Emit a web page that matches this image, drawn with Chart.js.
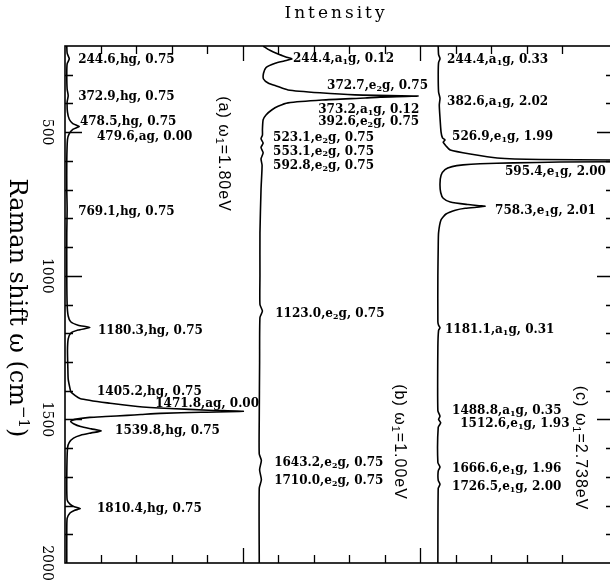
<!DOCTYPE html>
<html><head><meta charset="utf-8">
<script src="https://cdn.jsdelivr.net/npm/chart.js@4/dist/chart.umd.min.js"></script>
<style>
html,body{margin:0;padding:0;background:#fff;overflow:hidden;width:610px;height:581px}
#wrap{width:616px;height:581px;position:relative}
canvas{display:block}
</style>
</head><body><div id="wrap"><canvas id="c" width="616" height="581"></canvas></div>
<script>
// ---------------- DATA ----------------
const yTickLabels = [500, 1000, 1500, 2000];
const xAxisTitle = "Intensity";
const yAxisTitle = "Raman shift ω (cm⁻¹)";
const panelTitles = ["(a) ω₁=1.80eV", "(b) ω₁=1.00eV", "(c) ω₁=2.738eV"];

// panel (a) spectrum: Raman shift (cm^-1) and intensity (arb. units)
const shiftA = [200,225,244.6,262,300,350,372.9,395,430,455,470,480,490,505,525,600,700,769,850,1000,1100,1140,1160,1172,1180.3,1189,1200,1220,1260,1320,1360,1392,1405,1427,1444,1455,1462,1468,1472,1475,1479,1483,1486,1490,1493,1500,1507,1515,1525,1533,1540,1547,1555,1565,1580,1600,1700,1780,1795,1804,1810.4,1817,1826,1845,1900,2000];
const intensityA = [0.01,0.02,0.08,0.02,0.01,0.02,0.05,0.02,0.03,0.08,0.18,0.36,0.18,0.08,0.03,0.01,0.01,0.02,0.01,0.01,0.02,0.05,0.12,0.33,0.66,0.33,0.12,0.05,0.03,0.04,0.05,0.10,0.13,0.38,1.23,2.0,2.92,4.0,4.98,3.8,2.64,2.1,1.71,1.1,0.66,0.24,0.12,0.2,0.4,0.7,0.98,0.7,0.4,0.2,0.08,0.03,0.01,0.02,0.1,0.22,0.39,0.22,0.1,0.02,0.01,0.01];

// panel (b)
const shiftB = [200,215,228,238,245,252,260,275,295,315,329,340,353,363,370,374,378,381,388,398,410,422,440,457,490,510,523,538,553,572,593,615,700,850,1000,1100,1123,1145,1300,1500,1620,1643,1675,1710,1740,2000];
const intensityB = [0.11,0.30,0.53,0.75,0.92,0.70,0.45,0.19,0.12,0.12,0.25,0.5,0.81,1.71,2.70,4.47,3.4,2.98,1.77,0.81,0.53,0.36,0.19,0.11,0.09,0.09,0.05,0.11,0.05,0.11,0.05,0.08,0.05,0.02,0.02,0.02,0.09,0.02,0.01,0.0,0.0,0.06,0.01,0.06,0.0,0.0];

// panel (c)
const shiftC = [200,230,244,258,300,360,382,405,450,500,520,527,535,548,562,576,590,595,600,604,607,610,614,620,630,650,680,710,730,743,752,758.3,765,772,785,805,850,900,1000,1160,1172,1181,1190,1250,1470,1489,1500,1512,1528,1650,1666,1680,1712,1726,1740,2000];
const intensityC = [0.01,0.02,0.06,0.02,0.01,0.02,0.06,0.04,0.06,0.09,0.13,0.2,0.15,0.23,0.35,0.91,1.67,2.88,7.95,3.44,2.12,1.19,0.71,0.40,0.2,0.09,0.06,0.08,0.15,0.35,0.85,1.33,0.77,0.49,0.23,0.09,0.02,0.01,0.0,0.0,0.02,0.06,0.02,0.0,0.0,0.06,0.02,0.08,0.01,0.0,0.06,0.01,0.01,0.06,0.01,0.0];

// peak annotations (position, symmetry, value)
const labelsA = ["244.6,hg, 0.75","372.9,hg, 0.75","478.5,hg, 0.75","479.6,ag, 0.00","769.1,hg, 0.75","1180.3,hg, 0.75","1405.2,hg, 0.75","1471.8,ag, 0.00","1539.8,hg, 0.75","1810.4,hg, 0.75"];
const labelsB = ["244.4,a₁g, 0.12","372.7,e₂g, 0.75","373.2,a₁g, 0.12","392.6,e₂g, 0.75","523.1,e₂g, 0.75","553.1,e₂g, 0.75","592.8,e₂g, 0.75","1123.0,e₂g, 0.75","1643.2,e₂g, 0.75","1710.0,e₂g, 0.75"];
const labelsC = ["244.4,a₁g, 0.33","382.6,a₁g, 2.02","526.9,e₁g, 1.99","595.4,e₁g, 2.00","758.3,e₁g, 2.01","1181.1,a₁g, 0.31","1488.8,a₁g, 0.35","1512.6,e₁g, 1.93","1666.6,e₁g, 1.96","1726.5,e₁g, 2.00"];

// ---------------- LAYOUT (positions / styles) ----------------
const panelOffsets = [0.04, 5.47, 10.5];           // horizontal stacking of the three spectra
const labelLayout = [                               // [x in axis units, vertical nudge px]
  [[0.37,1],[0.37,1],[0.42,-4.5],[0.90,11],[0.37,2],[0.93,3],[0.90,0],[2.54,-7],[1.41,0],[0.90,0]],
  [[6.42,0],[7.38,-10],[7.13,14],[7.13,21],[5.86,-1],[5.86,4],[5.86,7],[5.92,3],[5.89,2],[5.89,1]],
  [[10.76,1],[10.76,3],[10.90,-3],[12.39,12],[12.11,5],[10.70,2],[10.90,-5],[11.13,1],[10.90,2],[10.90,2]]
];
const titleLayout = [[4.45,576],[9.41,1579],[14.51,1600]];   // centre (x units, shift)

const SUBS = '₀₁₂₃₄₅₆₇₈₉';
const SUPS = {'⁻':'−','¹':'1','²':'2'};

function runsOf(str){
  const runs=[]; let cur='', kind='n';
  for (const ch of str){
    let k='n', c=ch;
    if (SUBS.includes(ch)){k='sub'; c=String(SUBS.indexOf(ch));}
    else if (SUPS[ch]){k='sup'; c=SUPS[ch];}
    if (k!==kind && cur){runs.push({t:cur,k:kind}); cur='';}
    kind=k; cur+=c;
  }
  if (cur) runs.push({t:cur,k:kind});
  return runs;
}
function drawRich(ctx, str, x, y, st, align){
  const runs = runsOf(str);
  let total=0;
  runs.forEach(r=>{ ctx.font = r.k==='n'?st.font:st.smallFont; r.w = ctx.measureText(r.t).width; total+=r.w; });
  let cx = align==='center' ? x-total/2 : x;
  ctx.textAlign='left';
  runs.forEach(r=>{
    ctx.font = r.k==='n'?st.font:st.smallFont;
    const dy = r.k==='sub'?st.subShift:(r.k==='sup'?-st.supShift:0);
    ctx.fillText(r.t, cx, y+dy);
    cx += r.w;
  });
}

const decor = {
  id:'decor',
  afterDatasetsDraw(chart){
    const ctx = chart.ctx, a = chart.chartArea, xs = chart.scales.x, ys = chart.scales.y;
    ctx.save();
    ctx.strokeStyle='#000'; ctx.fillStyle='#000'; ctx.lineWidth=1.6;
    ctx.strokeRect(a.left, a.top, a.right-a.left, a.bottom-a.top);
    ctx.lineWidth=1.3;
    ctx.beginPath();
    xs.ticks.forEach(t=>{
      const v=t.value; if (v<=xs.min+1e-6 || v>=xs.max-1e-6) return;
      const px = Math.round(xs.getPixelForValue(v))+0.5;
      const len = (Math.abs(v%5)<1e-6)?15:8;
      ctx.moveTo(px,a.top); ctx.lineTo(px,a.top+len);
      ctx.moveTo(px,a.bottom); ctx.lineTo(px,a.bottom-len);
    });
    ys.ticks.forEach(t=>{
      const v=t.value; if (v<=ys.min+1e-6 || v>=ys.max-1e-6) return;
      const py = Math.round(ys.getPixelForValue(v))+0.5;
      const len = (Math.abs(v%500)<1e-6)?17:8;
      ctx.moveTo(a.left,py); ctx.lineTo(a.left+len,py);
      ctx.moveTo(a.right,py); ctx.lineTo(a.right-len,py);
    });
    ctx.stroke();

    ctx.font = '14px "DejaVu Serif"';
    ctx.textBaseline='middle'; ctx.textAlign='center';
    yTickLabels.forEach(v=>{
      ctx.save(); ctx.translate(a.left-18, ys.getPixelForValue(v)); ctx.rotate(Math.PI/2);
      ctx.fillText(String(v),0,0); ctx.restore();
    });

    ctx.save(); ctx.translate(a.left-55, 308); ctx.rotate(Math.PI/2);
    ctx.textBaseline='alphabetic';
    drawRich(ctx, yAxisTitle, 0, 0, {font:'24px "DejaVu Serif"', smallFont:'15px "DejaVu Serif"', subShift:4, supShift:9}, 'center');
    ctx.restore();

    ctx.textBaseline='middle'; ctx.textAlign='center';
    ctx.font='17px "DejaVu Serif"';
    ctx.letterSpacing='3px';
    ctx.fillText(xAxisTitle, 336, 14);
    ctx.letterSpacing='0px';

    const labelSets=[labelsA,labelsB,labelsC];
    ctx.textBaseline='middle';
    labelSets.forEach((set,p)=>{
      set.forEach((lab,i)=>{
        const [xu,dy]=labelLayout[p][i];
        const px = xs.getPixelForValue(xu);
        const py = ys.getPixelForValue(parseFloat(lab))+dy;
        drawRich(ctx, lab, px, py, {font:'bold 12px "DejaVu Serif"', smallFont:'bold 8px "DejaVu Serif"', subShift:3, supShift:3}, 'left');
      });
    });

    panelTitles.forEach((t,p)=>{
      const [xu,sv]=titleLayout[p];
      ctx.save(); ctx.translate(xs.getPixelForValue(xu), ys.getPixelForValue(sv)); ctx.rotate(Math.PI/2);
      ctx.textBaseline='middle';
      ctx.letterSpacing='1px';
      drawRich(ctx, t, 0, 0, {font:'16px "Liberation Sans"', smallFont:'11px "Liberation Sans"', subShift:4, supShift:4}, 'center');
      ctx.letterSpacing='0px';
      ctx.restore();
    });
    ctx.restore();
  }
};

function mk(shift, inten, off){ return shift.map((s,i)=>({x: off+inten[i], y: s})); }

new Chart(document.getElementById('c'), {
  type:'scatter',
  data:{ datasets:[
    {data: mk(shiftA,intensityA,panelOffsets[0])},
    {data: mk(shiftB,intensityB,panelOffsets[1])},
    {data: mk(shiftC,intensityC,panelOffsets[2])}
  ].map(d=>Object.assign(d,{showLine:true,borderColor:'#000',borderWidth:1.6,pointRadius:0,tension:0.2,fill:false}))},
  options:{
    responsive:false, animation:false, devicePixelRatio:1,
    layout:{padding:{left:65,top:46,right:2,bottom:18}},
    plugins:{legend:{display:false},tooltip:{enabled:false}},
    scales:{
      x:{type:'linear',min:0,max:15.46,display:false,ticks:{stepSize:1}},
      y:{type:'linear',min:200,max:2000,reverse:true,display:false,ticks:{stepSize:100}}
    }
  },
  plugins:[decor]
});
</script>
</body></html>
